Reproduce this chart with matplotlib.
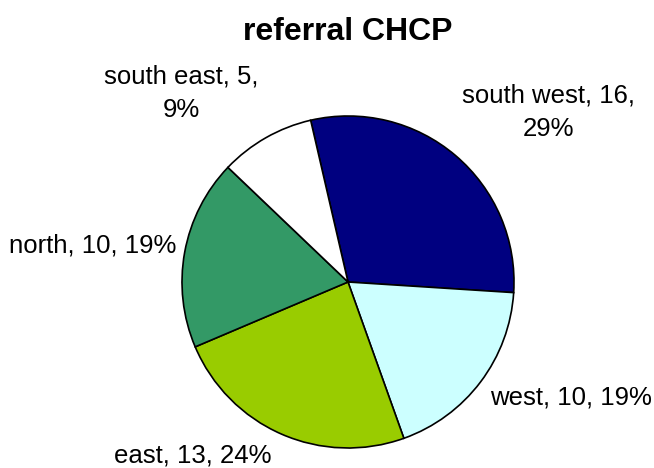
import matplotlib
matplotlib.use("Agg")
import matplotlib.pyplot as plt

plt.rcParams["font.family"] = ["Liberation Sans", "DejaVu Sans"]

regions = ["south west", "west", "east", "north", "south east"]
counts = [16, 10, 13, 10, 5]
pct_labels = ["29%", "19%", "24%", "19%", "9%"]
colors = ["#000080", "#CCFFFF", "#99CC00", "#339966", "#FFFFFF"]
title = "referral CHCP"

W, H = 654, 468
fig = plt.figure(figsize=(W / 100, H / 100), dpi=100)
ax = fig.add_axes([0, 0, 1, 1])

def py(y):
    # pixel row (from top) -> data y
    return H - y

ax.pie(counts, colors=colors, startangle=103, counterclock=False,
       center=(348, py(282)), radius=166, frame=True,
       wedgeprops=dict(edgecolor="black", linewidth=1.2))
ax.set_xlim(0, W)
ax.set_ylim(0, H)
ax.set_aspect("equal")
ax.axis("off")

# label text per slice: "name, count, pct" (two-line for the top ones)
label_pos = [(548, 112, True), (571, 398, False), (193, 456, False),
             (93, 246, False), (181, 93, True)]
for name, n, p, (x, y, wrap) in zip(regions, counts, pct_labels, label_pos):
    txt = f"{name}, {n},\n{p}" if wrap else f"{name}, {n}, {p}"
    ax.text(x, py(y), txt, ha="center", va="center", fontsize=18.5,
            linespacing=1.5)

ax.text(348, py(32), title, ha="center", va="center", fontsize=23,
        fontweight="bold")

fig.savefig("out.png", dpi=100)
